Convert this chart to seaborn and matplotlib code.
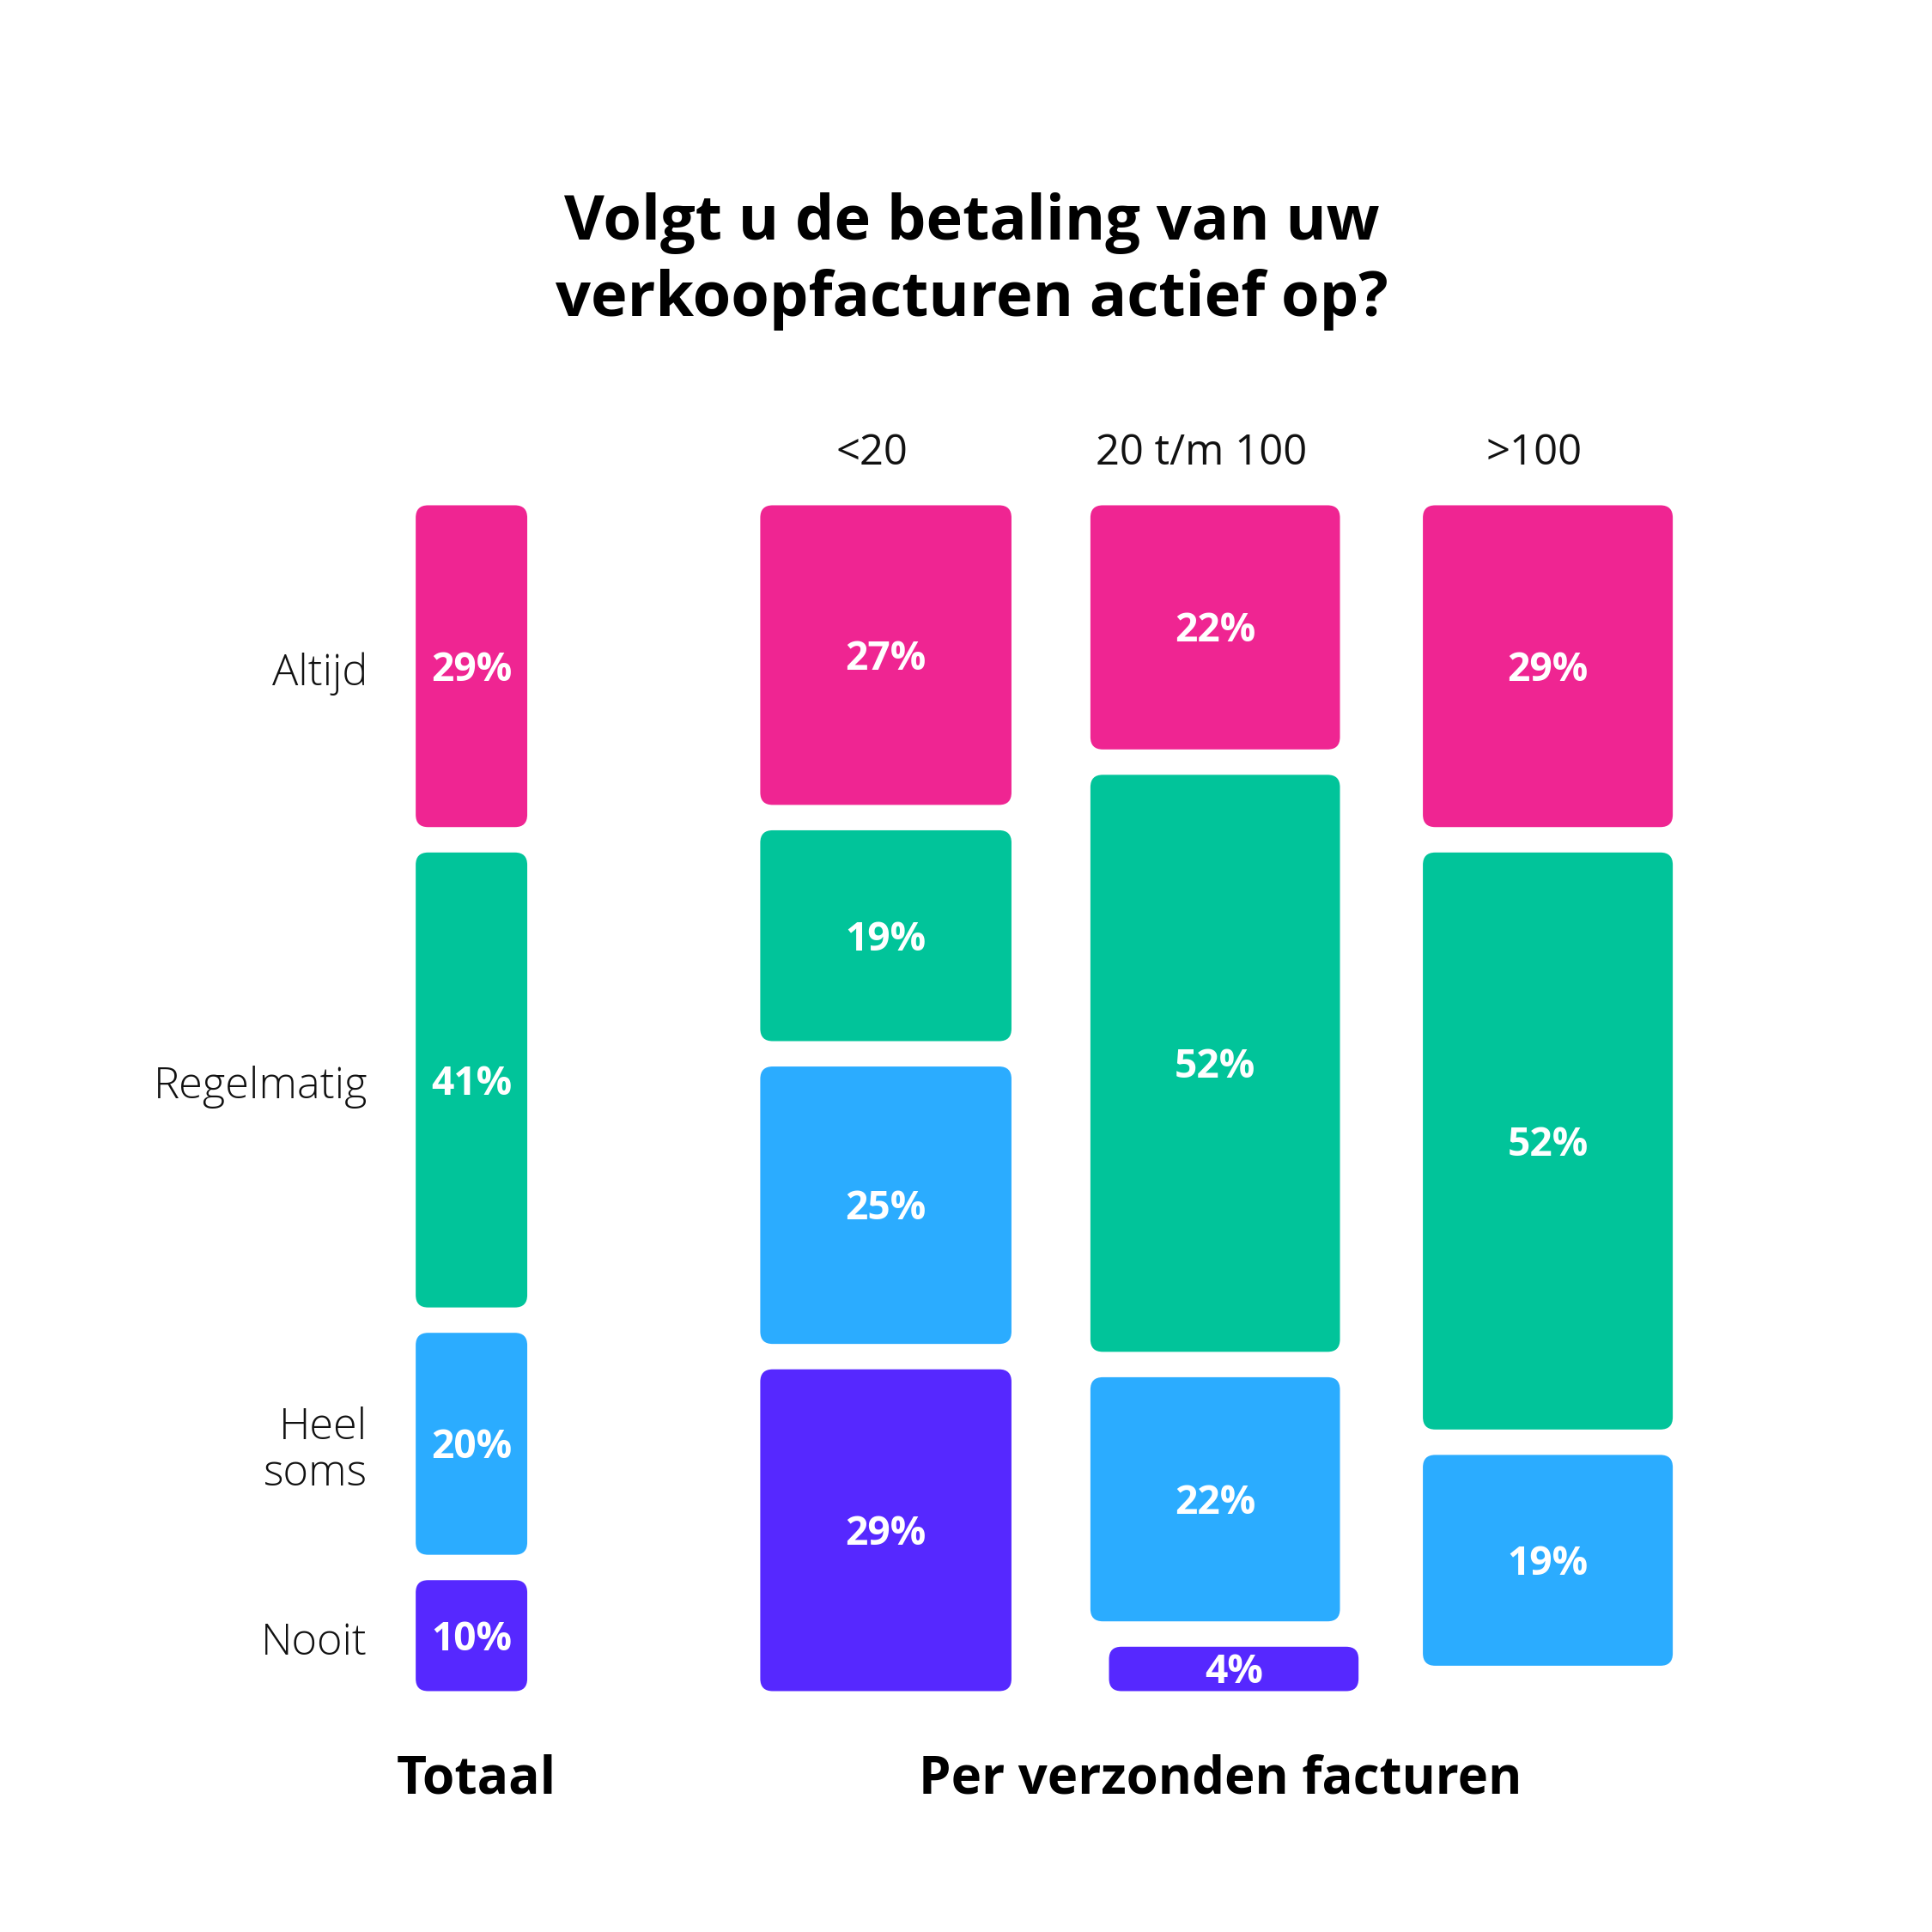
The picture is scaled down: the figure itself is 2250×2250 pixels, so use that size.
import matplotlib
matplotlib.use("Agg")
import matplotlib.pyplot as plt
import seaborn as sns
import pandas as pd
from matplotlib.patches import FancyBboxPatch

# ---------------- data ----------------
categories = ["Altijd", "Regelmatig", "Heel\nsoms", "Nooit"]
columns = ["Totaal", "<20", "20 t/m 100", ">100"]
totaal = [29, 41, 20, 10]
lt20 = [27, 19, 25, 29]
mid = [22, 52, 22, 4]
gt100 = [29, 52, 19, 0]
title = "Volgt u de betaling van uw\nverkoopfacturen actief op?"
group_labels = ["Totaal", "Per verzonden facturen"]
palette_hex = ["#EF2592", "#01C49A", "#2BACFF", "#5628FF"]

# ---------------- style ----------------
sns.set_theme(style="white")
plt.rcParams["font.family"] = ["Open Sans", "DejaVu Sans"]
colors = sns.color_palette(palette_hex)

df = pd.DataFrame({"Totaal": totaal, "<20": lt20, "20 t/m 100": mid, ">100": gt100},
                  index=categories)

# layout (reference pixel grid of 1560)
REF = 1560.0
X0_PX, XSTEP_PX = 380.7, 267.25       # Totaal centre, unit width
Y0_PX, YSTEP_PX = 408.0, 8.96         # top of bars, px per percent
GAP = 20.5 / YSTEP_PX                 # gap between segments, in percent units
xpos = [0.0, 1.252, 2.247, 3.252]
widths = [0.337, 0.759, 0.754, 0.755]
seg_shift = {("20 t/m 100", 3): 15 / XSTEP_PX}
PT = 2250 / REF * 72 / 250            # points per reference px

fig = plt.figure(figsize=(9, 9), dpi=250)
ax = fig.add_axes([0, 0, 1, 1])
ax.set_xlim((0 - X0_PX) / XSTEP_PX, (REF - X0_PX) / XSTEP_PX)
ax.set_ylim((REF - Y0_PX) / YSTEP_PX, (0 - Y0_PX) / YSTEP_PX)
ax.axis("off")

aspect = XSTEP_PX / YSTEP_PX
radius = 10 / XSTEP_PX
label_dy = 3 / YSTEP_PX

for ci, col in enumerate(columns):
    start = 0.0
    for k, v in enumerate(df[col].values):
        if v <= 0:
            continue
        x = xpos[ci] + seg_shift.get((col, k), 0.0)
        w = widths[ci]
        box = FancyBboxPatch((x - w / 2, start), w, v,
                             boxstyle=f"round,pad=0,rounding_size={radius}",
                             mutation_aspect=aspect, facecolor=colors[k],
                             edgecolor="none", zorder=2)
        ax.add_patch(box)
        ax.text(x, start + v / 2 + label_dy, f"{v}%", ha="center", va="center",
                color="white", fontsize=32 * PT, fontweight="bold", zorder=3)
        if ci == 0:
            ax.text(x - w / 2 - 39 / XSTEP_PX, start + v / 2 + 2 * label_dy,
                    categories[k], ha="right", va="center", color="#111111",
                    fontsize=35 * PT, fontweight="light", linespacing=1.1)
        start += v + GAP

# column headers
for ci, col in enumerate(columns[1:], start=1):
    ax.text(xpos[ci] - 11 / XSTEP_PX, (366 - Y0_PX) / YSTEP_PX, col,
            ha="center", va="center", fontsize=34 * PT, color="#111111")

# title
fig.text(785 / REF, 1 - 211 / REF, title, ha="center", va="center",
         fontsize=50 * PT, fontweight="bold", linespacing=1.32, color="black")

# group labels
ax.text(xpos[0] + 4 / XSTEP_PX, (1437 - Y0_PX) / YSTEP_PX, group_labels[0],
        ha="center", va="center", fontsize=42 * PT, fontweight="bold", color="black")
ax.text(xpos[2] + 4 / XSTEP_PX, (1437 - Y0_PX) / YSTEP_PX, group_labels[1],
        ha="center", va="center", fontsize=41.5 * PT, fontweight="bold", color="black")

fig.savefig("out.png", dpi=250, facecolor="white")
